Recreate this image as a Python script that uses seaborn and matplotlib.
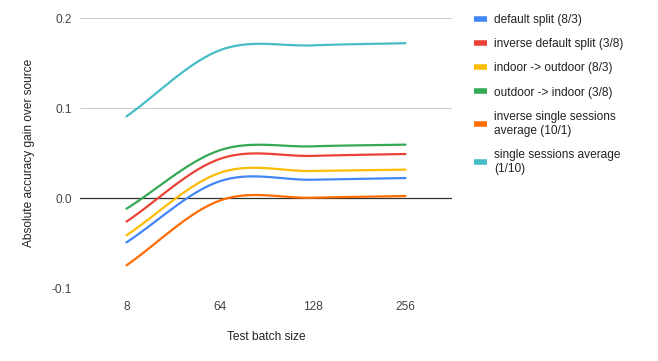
import numpy as np
import pandas as pd
import matplotlib
matplotlib.use("Agg")
import matplotlib.pyplot as plt
import seaborn as sns
from matplotlib.lines import Line2D

# Data
batch_sizes = ["8", "64", "128", "256"]
default_split = [-0.0493, 0.0185, 0.0203, 0.0222]
inverse_default_split = [-0.0262, 0.0433, 0.0468, 0.0489]
indoor_to_outdoor = [-0.0415, 0.0278, 0.0300, 0.0315]
outdoor_to_indoor = [-0.0119, 0.0529, 0.0574, 0.0593]
inverse_single_sessions = [-0.0748, -0.0030, 0.0003, 0.0022]
single_sessions = [0.0907, 0.1640, 0.1696, 0.1720]

series_names = [
    "default split (8/3)",
    "inverse default split (3/8)",
    "indoor -> outdoor (8/3)",
    "outdoor -> indoor (3/8)",
    "inverse single sessions\naverage (10/1)",
    "single sessions average\n(1/10)",
]
series_values = [default_split, inverse_default_split, indoor_to_outdoor,
                 outdoor_to_indoor, inverse_single_sessions, single_sessions]
colors = ["#4285F4", "#EA4335", "#FBBC04", "#34A853", "#FF6D01", "#46BDC6"]


def smooth(vals, n=40):
    # cubic hermite (catmull-rom style) curve through the points, like the sheets "smooth" option
    v = np.asarray(vals, dtype=float)
    m = np.gradient(v)
    xs, ys = [], []
    for i in range(len(v) - 1):
        t = np.linspace(0, 1, n, endpoint=(i == len(v) - 2))
        h00 = 2 * t**3 - 3 * t**2 + 1
        h10 = t**3 - 2 * t**2 + t
        h01 = -2 * t**3 + 3 * t**2
        h11 = t**3 - t**2
        xs.append(i + t)
        ys.append(h00 * v[i] + h10 * m[i] + h01 * v[i + 1] + h11 * m[i + 1])
    return np.concatenate(xs), np.concatenate(ys)


rows = []
for name, vals in zip(series_names, series_values):
    px, py = smooth(vals)
    rows.append(pd.DataFrame({"pos": px, "value": py, "series": name}))
df = pd.concat(rows, ignore_index=True)

sns.set_theme(style="white")
plt.rcParams["font.family"] = ["Liberation Sans", "DejaVu Sans"]

fig = plt.figure(figsize=(6.58, 3.61), dpi=100)
ax = fig.add_axes([80 / 658, 1 - 288 / 361, 372 / 658, 270 / 361])

sns.lineplot(data=df, x="pos", y="value", hue="series", hue_order=series_names,
             palette=colors, linewidth=1.6, sort=False, estimator=None,
             legend=False, ax=ax)

ax.set_xlim(-0.5, 3.5)
ax.set_ylim(-0.1, 0.2)
ax.set_yticks([-0.1, 0.0, 0.1, 0.2])
ax.set_yticklabels(["-0.1", "0.0", "0.1", "0.2"])
ax.set_xticks(range(len(batch_sizes)))
ax.set_xticklabels(batch_sizes)
ax.yaxis.grid(True, color="#cccccc", linewidth=0.75)
ax.xaxis.grid(False)
ax.axhline(0, color="#333333", linewidth=0.9, zorder=1)
for s in ax.spines.values():
    s.set_visible(False)
ax.tick_params(axis="both", length=0, labelsize=8.6, labelcolor="#444444")
ax.tick_params(axis="y", pad=6)
ax.tick_params(axis="x", pad=9)

ax.set_xlabel("Test batch size", fontsize=8.6, color="#222222")
ax.set_ylabel("Absolute accuracy gain over source", fontsize=8.6, color="#222222")
ax.xaxis.set_label_coords(0.5, -0.158)
ax.yaxis.set_label_coords(-0.122, 0.5)

handles = [Line2D([], [], color=c, linewidth=4, solid_capstyle="butt") for c in colors]
fig.legend(handles, series_names, loc="upper left",
           bbox_to_anchor=(474 / 658, 1 - 14 / 361), bbox_transform=fig.transFigure,
           frameon=False, fontsize=8.6, handlelength=1.1, handletextpad=0.6,
           labelspacing=1.02, borderpad=0, borderaxespad=0, labelcolor="#222222")

fig.savefig("out.png", dpi=100)
